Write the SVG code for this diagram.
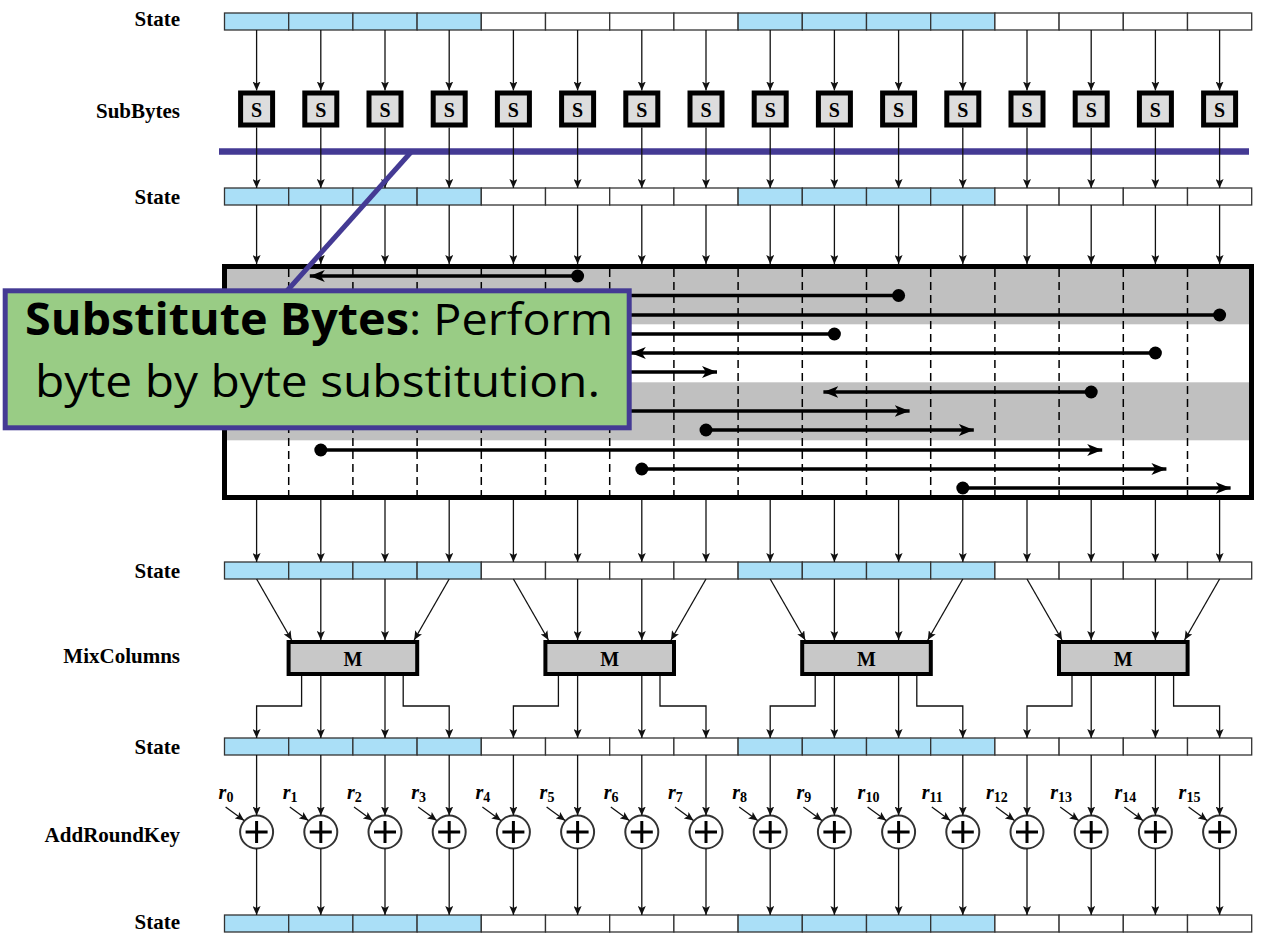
<svg xmlns="http://www.w3.org/2000/svg" xmlns:xlink="http://www.w3.org/1999/xlink" width="1266" height="934" viewBox="0 0 1266 934">
<style>
.lbl{font-family:"Liberation Serif",serif;font-weight:bold;font-size:21px;text-anchor:end;fill:#000}
.sb{font-family:"Liberation Serif",serif;font-weight:bold;font-size:20px;text-anchor:middle;fill:#000}
.rk{font-family:"Liberation Serif",serif;font-weight:bold;font-style:italic;font-size:20px;fill:#000}
.rs{font-style:normal;font-size:14px}
.cb{fill:#aadff7;stroke:#333;stroke-width:1.3}
.cw{fill:#fff;stroke:#333;stroke-width:1.3}
.th{fill:none;stroke:#111;stroke-width:1.3;marker-end:url(#ah)}
.sh{fill:none;stroke:#000;stroke-width:3.5;marker-start:url(#dot);marker-end:url(#ahb)}
.dash{stroke:#000;stroke-width:1.5;stroke-dasharray:8 5}
.mbox{fill:#c8c8c8;stroke:#000;stroke-width:4}
.co{font-family:"Open Sans","Noto Sans",sans-serif;font-size:44px;fill:#000;text-anchor:middle}
</style>
<defs>
<marker id="ah" markerUnits="userSpaceOnUse" markerWidth="9" markerHeight="8" refX="9" refY="4" orient="auto"><path d="M0,0 L9,4 L0,8 L2,4 z" fill="#111"/></marker>
<marker id="ahb" markerUnits="userSpaceOnUse" markerWidth="16" markerHeight="12" refX="15" refY="6" orient="auto"><path d="M0,0 L15,6 L0,12 L4,6 z" fill="#000"/></marker>
<marker id="dot" markerUnits="userSpaceOnUse" markerWidth="14" markerHeight="14" refX="7" refY="7"><circle cx="7" cy="7" r="6.5" fill="#000"/></marker>
<g id="bar">
<rect class="cb" x="224.5" y="0" width="64.2" height="17"/>
<rect class="cb" x="288.7" y="0" width="64.2" height="17"/>
<rect class="cb" x="352.9" y="0" width="64.2" height="17"/>
<rect class="cb" x="417.1" y="0" width="64.2" height="17"/>
<rect class="cw" x="481.3" y="0" width="64.2" height="17"/>
<rect class="cw" x="545.5" y="0" width="64.2" height="17"/>
<rect class="cw" x="609.7" y="0" width="64.2" height="17"/>
<rect class="cw" x="673.9" y="0" width="64.2" height="17"/>
<rect class="cb" x="738.1" y="0" width="64.2" height="17"/>
<rect class="cb" x="802.3" y="0" width="64.2" height="17"/>
<rect class="cb" x="866.5" y="0" width="64.2" height="17"/>
<rect class="cb" x="930.7" y="0" width="64.2" height="17"/>
<rect class="cw" x="994.9" y="0" width="64.2" height="17"/>
<rect class="cw" x="1059.1" y="0" width="64.2" height="17"/>
<rect class="cw" x="1123.3" y="0" width="64.2" height="17"/>
<rect class="cw" x="1187.5" y="0" width="64.2" height="17"/>
</g>
<g id="sbox"><rect x="-16" y="-16" width="32" height="32" fill="#ddd" stroke="#000" stroke-width="5"/><text class="sb" x="0" y="8">S</text></g>
<g id="xor"><circle r="16.5" fill="#fff" stroke="#333" stroke-width="2"/><path d="M-11,0H11M0,-11V11" stroke="#000" stroke-width="3"/></g>
</defs>

<rect width="1266" height="934" fill="#fff"/>

<!-- purple callout bar (under connectors) -->
<line id="callout-bar" x1="219" y1="151.5" x2="1249" y2="151.5" stroke="#443a94" stroke-width="6.5"/>

<!-- row labels -->
<g id="labels">
<text class="lbl" x="180" y="25.5">State</text>
<text class="lbl" x="180" y="118">SubBytes</text>
<text class="lbl" x="180" y="204">State</text>
<text class="lbl" x="180" y="578">State</text>
<text class="lbl" x="180" y="663">MixColumns</text>
<text class="lbl" x="180" y="754">State</text>
<text class="lbl" x="180" y="842">AddRoundKey</text>
<text class="lbl" x="180" y="929">State</text>
</g>

<!-- state bars -->
<g id="state1"><use xlink:href="#bar" href="#bar" y="13"/></g>
<g id="state2"><use xlink:href="#bar" href="#bar" y="188"/></g>
<g id="state3"><use xlink:href="#bar" href="#bar" y="562"/></g>
<g id="state4"><use xlink:href="#bar" href="#bar" y="738"/></g>
<g id="state5"><use xlink:href="#bar" href="#bar" y="915"/></g>

<!-- S boxes -->
<g id="subbytes">
<use href="#sbox" x="256.6" y="109"/><use href="#sbox" x="320.8" y="109"/><use href="#sbox" x="385" y="109"/><use href="#sbox" x="449.2" y="109"/>
<use href="#sbox" x="513.4" y="109"/><use href="#sbox" x="577.6" y="109"/><use href="#sbox" x="641.8" y="109"/><use href="#sbox" x="706" y="109"/>
<use href="#sbox" x="770.2" y="109"/><use href="#sbox" x="834.4" y="109"/><use href="#sbox" x="898.6" y="109"/><use href="#sbox" x="962.8" y="109"/>
<use href="#sbox" x="1027" y="109"/><use href="#sbox" x="1091.2" y="109"/><use href="#sbox" x="1155.4" y="109"/><use href="#sbox" x="1219.6" y="109"/>
</g>

<!-- ShiftRows box -->
<g id="shiftrows">
<rect x="224.5" y="266.5" width="1027" height="231" fill="#fff"/>
<rect x="227" y="266.3" width="1022" height="58" fill="#c0c0c0"/>
<rect x="227" y="382.3" width="1022" height="58" fill="#c0c0c0"/>
<g class="dash">
<line x1="288.7" y1="269" x2="288.7" y2="495"/><line x1="352.9" y1="269" x2="352.9" y2="495"/><line x1="417.1" y1="269" x2="417.1" y2="495"/>
<line x1="481.3" y1="269" x2="481.3" y2="495"/><line x1="545.5" y1="269" x2="545.5" y2="495"/><line x1="609.7" y1="269" x2="609.7" y2="495"/>
<line x1="673.9" y1="269" x2="673.9" y2="495"/><line x1="738.1" y1="269" x2="738.1" y2="495"/><line x1="802.3" y1="269" x2="802.3" y2="495"/>
<line x1="866.5" y1="269" x2="866.5" y2="495"/><line x1="930.7" y1="269" x2="930.7" y2="495"/><line x1="994.9" y1="269" x2="994.9" y2="495"/>
<line x1="1059.1" y1="269" x2="1059.1" y2="495"/><line x1="1123.3" y1="269" x2="1123.3" y2="495"/><line x1="1187.5" y1="269" x2="1187.5" y2="495"/>
</g>
<rect x="224.5" y="266.5" width="1027" height="231" fill="none" stroke="#000" stroke-width="5"/>
</g>

<!-- MixColumns boxes -->
<g id="mix0"><rect class="mbox" x="288.6" y="642" width="128.6" height="32"/><text class="sb" x="352.9" y="666">M</text></g>
<g id="mix1"><rect class="mbox" x="545.4" y="642" width="128.6" height="32"/><text class="sb" x="609.7" y="666">M</text></g>
<g id="mix2"><rect class="mbox" x="802.2" y="642" width="128.6" height="32"/><text class="sb" x="866.5" y="666">M</text></g>
<g id="mix3"><rect class="mbox" x="1059" y="642" width="128.6" height="32"/><text class="sb" x="1123.3" y="666">M</text></g>

<!-- AddRoundKey XORs -->
<g id="addroundkey">
<use href="#xor" x="256.6" y="832"/><use href="#xor" x="320.8" y="832"/><use href="#xor" x="385" y="832"/><use href="#xor" x="449.2" y="832"/>
<use href="#xor" x="513.4" y="832"/><use href="#xor" x="577.6" y="832"/><use href="#xor" x="641.8" y="832"/><use href="#xor" x="706" y="832"/>
<use href="#xor" x="770.2" y="832"/><use href="#xor" x="834.4" y="832"/><use href="#xor" x="898.6" y="832"/><use href="#xor" x="962.8" y="832"/>
<use href="#xor" x="1027" y="832"/><use href="#xor" x="1091.2" y="832"/><use href="#xor" x="1155.4" y="832"/><use href="#xor" x="1219.6" y="832"/>
</g>

<!-- round key labels -->
<g id="roundkeys">
<text class="rk" x="218.6" y="799">r<tspan class="rs" dy="3">0</tspan></text>
<text class="rk" x="282.8" y="799">r<tspan class="rs" dy="3">1</tspan></text>
<text class="rk" x="347" y="799">r<tspan class="rs" dy="3">2</tspan></text>
<text class="rk" x="411.2" y="799">r<tspan class="rs" dy="3">3</tspan></text>
<text class="rk" x="475.4" y="799">r<tspan class="rs" dy="3">4</tspan></text>
<text class="rk" x="539.6" y="799">r<tspan class="rs" dy="3">5</tspan></text>
<text class="rk" x="603.8" y="799">r<tspan class="rs" dy="3">6</tspan></text>
<text class="rk" x="668" y="799">r<tspan class="rs" dy="3">7</tspan></text>
<text class="rk" x="732.2" y="799">r<tspan class="rs" dy="3">8</tspan></text>
<text class="rk" x="796.4" y="799">r<tspan class="rs" dy="3">9</tspan></text>
<text class="rk" x="857.6" y="799">r<tspan class="rs" dy="3">10</tspan></text>
<text class="rk" x="921.8" y="799">r<tspan class="rs" dy="3">11</tspan></text>
<text class="rk" x="986" y="799">r<tspan class="rs" dy="3">12</tspan></text>
<text class="rk" x="1050.2" y="799">r<tspan class="rs" dy="3">13</tspan></text>
<text class="rk" x="1114.4" y="799">r<tspan class="rs" dy="3">14</tspan></text>
<text class="rk" x="1178.6" y="799">r<tspan class="rs" dy="3">15</tspan></text>
</g>

<!-- connectors -->
<g id="connectors">
<path class="th" d="M256.6,30V90.5"/><path class="th" d="M320.8,30V90.5"/><path class="th" d="M385,30V90.5"/><path class="th" d="M449.2,30V90.5"/>
<path class="th" d="M513.4,30V90.5"/><path class="th" d="M577.6,30V90.5"/><path class="th" d="M641.8,30V90.5"/><path class="th" d="M706,30V90.5"/>
<path class="th" d="M770.2,30V90.5"/><path class="th" d="M834.4,30V90.5"/><path class="th" d="M898.6,30V90.5"/><path class="th" d="M962.8,30V90.5"/>
<path class="th" d="M1027,30V90.5"/><path class="th" d="M1091.2,30V90.5"/><path class="th" d="M1155.4,30V90.5"/><path class="th" d="M1219.6,30V90.5"/>

<path class="th" d="M256.6,127.5V188"/><path class="th" d="M320.8,127.5V188"/><path class="th" d="M385,127.5V188"/><path class="th" d="M449.2,127.5V188"/>
<path class="th" d="M513.4,127.5V188"/><path class="th" d="M577.6,127.5V188"/><path class="th" d="M641.8,127.5V188"/><path class="th" d="M706,127.5V188"/>
<path class="th" d="M770.2,127.5V188"/><path class="th" d="M834.4,127.5V188"/><path class="th" d="M898.6,127.5V188"/><path class="th" d="M962.8,127.5V188"/>
<path class="th" d="M1027,127.5V188"/><path class="th" d="M1091.2,127.5V188"/><path class="th" d="M1155.4,127.5V188"/><path class="th" d="M1219.6,127.5V188"/>

<path class="th" d="M256.6,205V264"/><path class="th" d="M320.8,205V264"/><path class="th" d="M385,205V264"/><path class="th" d="M449.2,205V264"/>
<path class="th" d="M513.4,205V264"/><path class="th" d="M577.6,205V264"/><path class="th" d="M641.8,205V264"/><path class="th" d="M706,205V264"/>
<path class="th" d="M770.2,205V264"/><path class="th" d="M834.4,205V264"/><path class="th" d="M898.6,205V264"/><path class="th" d="M962.8,205V264"/>
<path class="th" d="M1027,205V264"/><path class="th" d="M1091.2,205V264"/><path class="th" d="M1155.4,205V264"/><path class="th" d="M1219.6,205V264"/>

<path class="th" d="M256.6,500V562"/><path class="th" d="M320.8,500V562"/><path class="th" d="M385,500V562"/><path class="th" d="M449.2,500V562"/>
<path class="th" d="M513.4,500V562"/><path class="th" d="M577.6,500V562"/><path class="th" d="M641.8,500V562"/><path class="th" d="M706,500V562"/>
<path class="th" d="M770.2,500V562"/><path class="th" d="M834.4,500V562"/><path class="th" d="M898.6,500V562"/><path class="th" d="M962.8,500V562"/>
<path class="th" d="M1027,500V562"/><path class="th" d="M1091.2,500V562"/><path class="th" d="M1155.4,500V562"/><path class="th" d="M1219.6,500V562"/>

<path class="th" d="M256.6,579L291.6,640"/><path class="th" d="M320.8,579V640"/><path class="th" d="M385,579V640"/><path class="th" d="M449.2,579L414.2,640"/>
<path class="th" d="M513.4,579L548.4,640"/><path class="th" d="M577.6,579V640"/><path class="th" d="M641.8,579V640"/><path class="th" d="M706,579L671,640"/>
<path class="th" d="M770.2,579L805.2,640"/><path class="th" d="M834.4,579V640"/><path class="th" d="M898.6,579V640"/><path class="th" d="M962.8,579L927.8,640"/>
<path class="th" d="M1027,579L1062,640"/><path class="th" d="M1091.2,579V640"/><path class="th" d="M1155.4,579V640"/><path class="th" d="M1219.6,579L1184.6,640"/>

<path class="th" d="M301.6,676V706H256.6V738"/><path class="th" d="M320.8,676V738"/><path class="th" d="M385,676V738"/><path class="th" d="M403.2,676V706H449.2V738"/>
<path class="th" d="M558.4,676V706H513.4V738"/><path class="th" d="M577.6,676V738"/><path class="th" d="M641.8,676V738"/><path class="th" d="M660,676V706H706V738"/>
<path class="th" d="M815.2,676V706H770.2V738"/><path class="th" d="M834.4,676V738"/><path class="th" d="M898.6,676V738"/><path class="th" d="M916.8,676V706H962.8V738"/>
<path class="th" d="M1072,676V706H1027V738"/><path class="th" d="M1091.2,676V738"/><path class="th" d="M1155.4,676V738"/><path class="th" d="M1173.6,676V706H1219.6V738"/>

<path class="th" d="M256.6,755V815.5"/><path class="th" d="M320.8,755V815.5"/><path class="th" d="M385,755V815.5"/><path class="th" d="M449.2,755V815.5"/>
<path class="th" d="M513.4,755V815.5"/><path class="th" d="M577.6,755V815.5"/><path class="th" d="M641.8,755V815.5"/><path class="th" d="M706,755V815.5"/>
<path class="th" d="M770.2,755V815.5"/><path class="th" d="M834.4,755V815.5"/><path class="th" d="M898.6,755V815.5"/><path class="th" d="M962.8,755V815.5"/>
<path class="th" d="M1027,755V815.5"/><path class="th" d="M1091.2,755V815.5"/><path class="th" d="M1155.4,755V815.5"/><path class="th" d="M1219.6,755V815.5"/>

<path class="th" d="M256.6,848.5V915"/><path class="th" d="M320.8,848.5V915"/><path class="th" d="M385,848.5V915"/><path class="th" d="M449.2,848.5V915"/>
<path class="th" d="M513.4,848.5V915"/><path class="th" d="M577.6,848.5V915"/><path class="th" d="M641.8,848.5V915"/><path class="th" d="M706,848.5V915"/>
<path class="th" d="M770.2,848.5V915"/><path class="th" d="M834.4,848.5V915"/><path class="th" d="M898.6,848.5V915"/><path class="th" d="M962.8,848.5V915"/>
<path class="th" d="M1027,848.5V915"/><path class="th" d="M1091.2,848.5V915"/><path class="th" d="M1155.4,848.5V915"/><path class="th" d="M1219.6,848.5V915"/>

<path class="th" d="M225.6,807L244.1,820.5"/><path class="th" d="M289.8,807L308.3,820.5"/><path class="th" d="M354,807L372.5,820.5"/><path class="th" d="M418.2,807L436.7,820.5"/>
<path class="th" d="M482.4,807L500.9,820.5"/><path class="th" d="M546.6,807L565.1,820.5"/><path class="th" d="M610.8,807L629.3,820.5"/><path class="th" d="M675,807L693.5,820.5"/>
<path class="th" d="M739.2,807L757.7,820.5"/><path class="th" d="M803.4,807L821.9,820.5"/><path class="th" d="M867.6,807L886.1,820.5"/><path class="th" d="M931.8,807L950.3,820.5"/>
<path class="th" d="M996,807L1014.5,820.5"/><path class="th" d="M1060.2,807L1078.7,820.5"/><path class="th" d="M1124.4,807L1142.9,820.5"/><path class="th" d="M1188.6,807L1207.1,820.5"/>

<!-- ShiftRows byte moves -->
<path class="sh" d="M577.6,276H309.8"/>
<path class="sh" d="M898.6,295.5H374"/>
<path class="sh" d="M1219.6,315H438.2"/>
<path class="sh" d="M834.4,334H566.6"/>
<path class="sh" d="M1155.4,353H630.8"/>
<path class="sh" d="M449.2,372H717"/>
<path class="sh" d="M1091.2,392H823.4"/>
<path class="sh" d="M385,411H909.6"/>
<path class="sh" d="M706,430H973.8"/>
<path class="sh" d="M320.8,450H1102.2"/>
<path class="sh" d="M641.8,469H1166.4"/>
<path class="sh" d="M962.8,488H1230.6"/>
</g>

<!-- callout -->
<g id="callout">
<line x1="412" y1="151" x2="286" y2="292" stroke="#443a94" stroke-width="5"/>
<rect x="5.2" y="290.8" width="624" height="137" fill="#99cc85" stroke="#443a94" stroke-width="5"/>
<text class="co" x="319" y="335" textLength="588" lengthAdjust="spacingAndGlyphs"><tspan font-weight="bold">Substitute Bytes</tspan>: Perform</text>
<text class="co" x="317.5" y="397" textLength="565" lengthAdjust="spacingAndGlyphs">byte by byte substitution.</text>
</g>
</svg>
